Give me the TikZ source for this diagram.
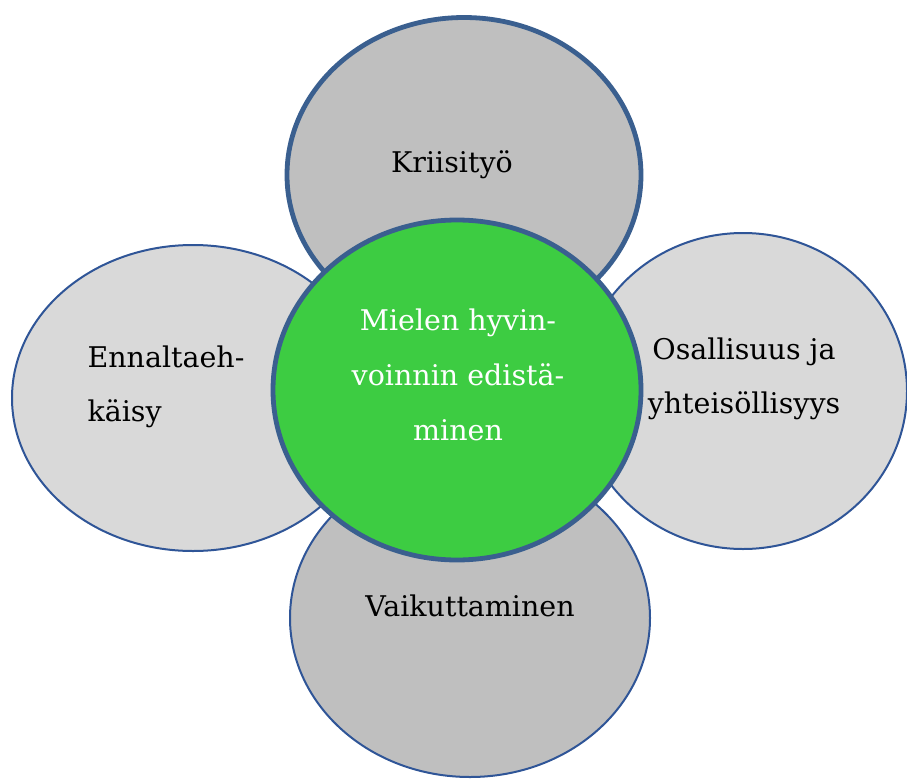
\documentclass[tikz,border=0pt]{standalone}
\usepackage{fontspec}
\setmainfont{DejaVu Serif}
\usetikzlibrary{shapes.geometric}

\definecolor{ringblue}{HTML}{3A5F8F}
\definecolor{thinblue}{HTML}{2F5597}
\definecolor{petaldark}{HTML}{BFBFBF}
\definecolor{petallight}{HTML}{D9D9D9}
\definecolor{hubgreen}{HTML}{3DCC42}

\begin{document}
\begin{tikzpicture}[x = 1pt, y = -1pt,
    petal/.style = {ellipse, inner sep = 0pt, draw = thinblue, line width = 2pt},
    thickpetal/.style = {petal, draw = ringblue, line width = 4.8pt},
    label/.style = {anchor = base, align = center, font = \fontsize{28.5}{54}\selectfont}]
      \useasboundingbox (0, 0) rectangle (907, 779);
      % petals
      \node[petal, fill = petallight, minimum width = 362pt, minimum height = 306pt] (ennalta) at (193, 398) {};
      \node[petal, fill = petallight, minimum width = 328pt, minimum height = 316pt] (osallisuus) at (743, 391) {};
      \node[petal, fill = petaldark, minimum width = 360pt, minimum height = 318pt] (vaikutus) at (470, 618) {};
      \node[thickpetal, fill = petaldark, minimum width = 354pt, minimum height = 315pt] (kriisi) at (464, 175) {};
      % hub
      \node[thickpetal, fill = hubgreen, minimum width = 368pt, minimum height = 340pt] (hub) at (457, 390) {};
      % texts (base = last line)
      \node[label] (kriisiText) at (452, 172) {Kriisityö};
      \node[label, align = left, anchor = base west] (ennaltaText) at (84, 421) {Ennaltaeh-\\käisy};
      \node[label] (osallisuusText) at (744, 413) {Osallisuus ja\\yhteisöllisyys};
      \node[label] (vaikutusText) at (470, 616) {Vaikuttaminen};
      \node[label, text = white, font = \fontsize{28.5}{55}\selectfont] (hubText) at (458, 440) {Mielen hyvin-\\voinnin edistä-\\minen};
    \end{tikzpicture}
\end{document}
